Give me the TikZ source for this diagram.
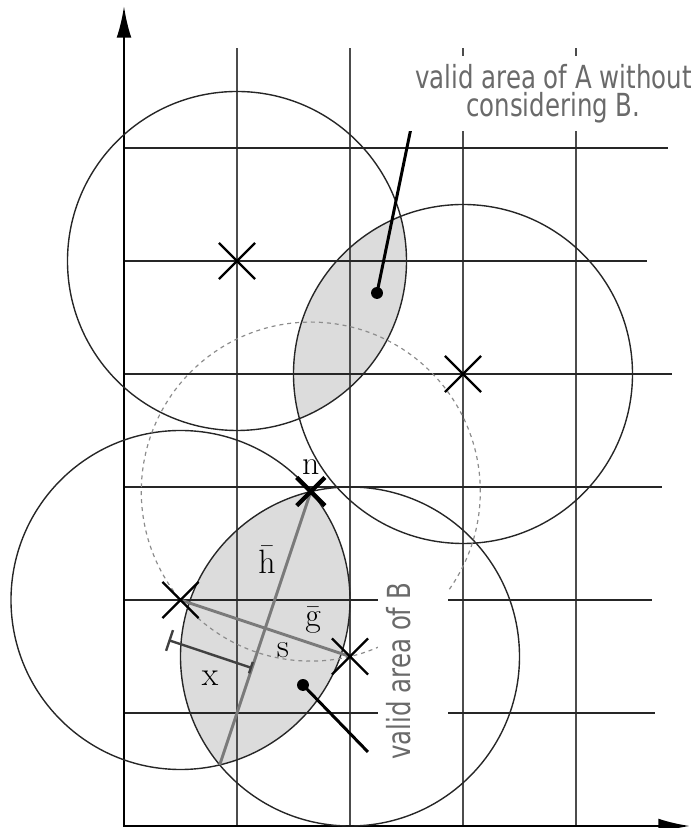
\documentclass[tikz,border=0pt]{standalone}
\usepackage{fontspec}
\newfontfamily\notefont[FakeStretch=0.77]{DejaVu Sans}
\usetikzlibrary{arrows.meta, shapes.misc, positioning}
\definecolor{areaGray}{HTML}{DCDCDC}
\definecolor{noteGray}{HTML}{6A6A6A}
\definecolor{vecGray}{HTML}{7A7A7A}

\begin{document}
\begin{tikzpicture}[
        scale=2,
        gridline/.style={
            black!85,
            line width=0.7pt
        },
        gridcol/.style={
            black!70,
            line width=1.1pt
        },
        axisline/.style={
            line width=1.3pt,
            {Latex[length=16pt,width=7.5pt]}-{Latex[length=16pt,width=7.5pt]}
        },
        rangecircle/.style={
            black!85,
            line width=0.7pt
        },
        shiftcircle/.style={
            black!45,
            line width=0.6pt,
            dash pattern=on 2pt off 2pt
        },
        areafill/.style={
            fill=areaGray
        },
        centermark/.style={
            cross out,
            draw=black,
            line width=1.2pt,
            minimum size=17pt,
            inner sep=0pt
        },
        crossmark/.style={
            cross out,
            draw=black,
            line width=2.2pt,
            minimum size=12pt,
            inner sep=0pt
        },
        vecline/.style={
            draw=vecGray,
            line width=1.5pt
        },
        dimline/.style={
            draw=black!75,
            line width=1.2pt,
            {Bar[width=11pt]}-{Bar[width=6pt]}
        },
        leader/.style={
            line width=1.5pt
        },
        areadot/.style={
            circle,
            fill=black,
            inner sep=0pt,
            minimum size=6pt
        },
        notelabel/.style={
            font=\notefont\fontsize{16}{14.5}\selectfont,
            text=noteGray,
            fill=white,
            inner sep=4pt,
            align=center
        },
        symlabel/.style={
            font=\fontsize{17}{20}\selectfont,
            inner sep=0pt
        }
    ]

    \useasboundingbox (-1.0973,-0.0177) rectangle (5.0354,7.3097);

    % Ein Gitterfeld = 1, alle Kreise haben Radius 1,5.
    \coordinate (pA1) at (1,5);
    \coordinate (pA2) at (3,4);
    \coordinate (pB1) at (0.5,2);
    \coordinate (pB2) at (2,1.5);
    \coordinate (pn) at (1.6531,2.9593);
    \coordinate (pm) at (0.8469,0.5407);

    \begin{scope}
        \clip (pA1) circle (1.5);
        \fill[areafill] (pA2) circle (1.5);
    \end{scope}
    \begin{scope}
        \clip (pB1) circle (1.5);
        \fill[areafill] (pB2) circle (1.5);
    \end{scope}

    \foreach \gx in {1,...,4}
        \draw[gridcol] (\gx,0) -- (\gx,6.885);
    \foreach \gy/\gend in {1/4.70, 2/4.67, 3/4.76, 4/4.85, 5/4.63, 6/4.81}
        \draw[gridline] (0,\gy) -- (\gend,\gy);

    \draw[axisline] (0,7.257) -- (0,0) -- (5.009,0);

    \foreach \c in {pA1,pA2,pB1,pB2}
        \draw[rangecircle] (\c) circle (1.5);
    \draw[shiftcircle] (pn) circle (1.5);

    \draw[vecline] (pB1) -- (pB2);
    \draw[vecline] (pn) -- (pm);

    \coordinate (xfoot) at (1.133,1.398);
    \coordinate (xend) at (0.393,1.645);
    \draw[dimline] (xend) -- (xfoot);

    \node[areadot] (dotA) at (2.239,4.717) {};
    \node[areadot] (dotB) at (1.584,1.248) {};
    \coordinate (noteAend) at (2.549,6.221);
    \coordinate (noteBend) at (2.159,0.655);
    \draw[leader] (dotA.center) -- (noteAend);
    \draw[leader] (dotB.center) -- (noteBend);

    \node[centermark] (xA1) at (pA1) {};
    \node[centermark] (xA2) at (pA2) {};
    \node[centermark] (xB1) at (pB1) {};
    \node[centermark] (xB2) at (pB2) {};
    \node[crossmark] (xn) at (pn) {};

    \node[symlabel, above=1.5pt of xn] (ln) {n};
    \node[symlabel] (lh) at (1.265,2.354) {$\bar{\mathrm{h}}$};
    \node[symlabel] (lg) at (1.673,1.823) {$\bar{\mathrm{g}}$};
    \node[symlabel] (ls) at (1.407,1.558) {s};
    \node[symlabel] (lx) at (0.761,1.310) {x};

    \node[notelabel] (noteA) at (3.80,6.48)
        {valid area of A without\\considering B.};
    \node[notelabel, rotate=90, anchor=base west, text depth=15pt] (noteB)
        at (2.531,0.513) {valid area of B};

\end{tikzpicture}
\end{document}
